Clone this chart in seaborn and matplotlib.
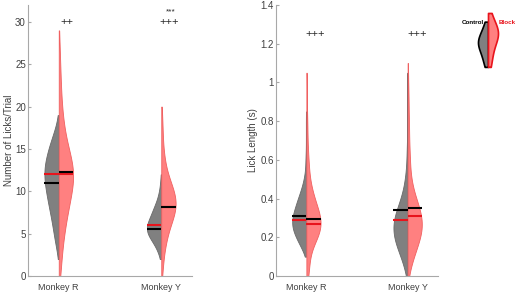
import numpy as np
import pandas as pd
import seaborn as sns
import matplotlib.pyplot as plt

monkeys = ["Monkey R", "Monkey Y"]
conditions = ["Control", "Block"]

# licks per trial: value bins and number of trials in each bin
lick_bins = np.arange(0, 30)
licks_r_control = [0, 0, 1, 4, 8, 11, 13, 17, 20, 24, 27, 30, 32, 31, 27,
                   22, 17, 10, 4, 1, 0, 0, 0, 0, 0, 0, 0, 0, 0, 0]
licks_r_block = [4, 4, 5, 6, 8, 10, 12, 15, 18, 21, 24, 28, 30, 28, 23,
                 18, 14, 11, 9, 7, 6, 5, 4, 4, 3, 3, 2, 2, 1, 1]
licks_y_control = [0, 0, 2, 7, 16, 28, 29, 21, 15, 8, 4, 2, 1, 0, 0,
                   0, 0, 0, 0, 0, 0, 0, 0, 0, 0, 0, 0, 0, 0, 0]
licks_y_block = [2, 3, 4, 6, 9, 12, 17, 24, 29, 29, 25, 18, 12, 8, 6,
                 4, 3, 3, 2, 2, 1, 0, 0, 0, 0, 0, 0, 0, 0, 0]

# lick length (s): value bins and number of licks in each bin
length_bins = np.round(np.arange(0, 1.15, 0.05), 2)
length_r_control = [0, 0, 1, 11, 21, 29, 29, 23, 17, 10, 5, 2, 2, 1, 1, 1,
                    1, 1, 0, 0, 0, 0, 0]
length_r_block = [5, 5, 6, 10, 22, 29, 28, 21, 15, 10, 6, 5, 4, 3, 2, 2,
                  2, 1, 1, 1, 1, 1, 0]
length_y_control = [2, 7, 13, 21, 27, 29, 27, 20, 13, 8, 5, 3, 2, 2, 1, 1,
                    1, 1, 1, 1, 1, 1, 0]
length_y_block = [2, 6, 13, 19, 27, 31, 30, 25, 17, 11, 7, 5, 5, 4, 3, 3,
                  3, 2, 2, 2, 1, 1, 1]

# horizontal markers (black / red) per monkey
licks_black_control = [11.0, 5.6]
licks_red_control = [12.0, 6.0]
licks_black_block = [12.3, 8.2]
licks_red_block = [12.1, 8.1]
length_black_control = [0.31, 0.34]
length_red_control = [0.29, 0.29]
length_black_block = [0.295, 0.35]
length_red_block = [0.27, 0.31]

licks_marks = ["++", "+++"]
licks_stars = ["", "***"]
length_marks = ["+++", "+++"]

# legend violin samples
legend_control = [0.05, 0.15, 0.25, 0.32, 0.38, 0.42, 0.45, 0.48, 0.52, 0.58, 0.66, 0.78]
legend_block = [0.05, 0.2, 0.32, 0.42, 0.5, 0.55, 0.58, 0.62, 0.65, 0.7, 0.78, 0.92]

GRAY = "#808080"
SALMON = "#ff8080"
TXT = "#404040"


def build(bins, counts):
    frames = []
    for (m, c), cnt in counts.items():
        vals = np.repeat(bins, cnt)
        frames.append(pd.DataFrame({"monkey": m, "cond": c, "value": vals}))
    return pd.concat(frames, ignore_index=True)


licks_df = build(lick_bins, {
    ("Monkey R", "Control"): licks_r_control,
    ("Monkey R", "Block"): licks_r_block,
    ("Monkey Y", "Control"): licks_y_control,
    ("Monkey Y", "Block"): licks_y_block,
})
length_df = build(length_bins, {
    ("Monkey R", "Control"): length_r_control,
    ("Monkey R", "Block"): length_r_block,
    ("Monkey Y", "Control"): length_y_control,
    ("Monkey Y", "Block"): length_y_block,
})

sns.set_style("ticks")
plt.rcParams["font.family"] = ["Liberation Sans", "DejaVu Sans"]

fig = plt.figure(figsize=(5.19, 2.96), dpi=100)
ax1 = fig.add_axes([28 / 519, 20 / 296, 164 / 519, 271 / 296])
ax2 = fig.add_axes([276 / 519, 20 / 296, 162 / 519, 271 / 296])


def draw(ax, df, bw, black_c, red_c, black_b, red_b):
    sns.violinplot(data=df, x="monkey", y="value", hue="cond", order=monkeys,
                   hue_order=conditions, split=True, inner=None, cut=0,
                   density_norm="width", bw_adjust=bw, width=0.28,
                   palette={"Control": GRAY, "Block": SALMON}, saturation=1,
                   linewidth=0.6, legend=False, ax=ax)
    for coll in ax.collections:
        fc = coll.get_facecolor()[0]
        coll.set_edgecolor("#6a6a6a" if fc[0] < 0.6 else "#f06060")
    half = 0.14
    for i in range(len(monkeys)):
        ax.hlines(red_c[i], i - half, i, color="#e8141c", lw=1.5, zorder=3)
        ax.hlines(black_c[i], i - half, i, color="black", lw=1.5, zorder=3)
        ax.hlines(red_b[i], i, i + half, color="#e8141c", lw=1.5, zorder=3)
        ax.hlines(black_b[i], i, i + half, color="black", lw=1.5, zorder=3)
    ax.set_xlim(-0.3, 1.3)
    ax.set_xlabel("")
    sns.despine(ax=ax)
    for s in ["left", "bottom"]:
        ax.spines[s].set_color("#a8a8a8")
        ax.spines[s].set_linewidth(0.8)
    ax.tick_params(axis="y", direction="in", length=2.5, color="#a8a8a8",
                   labelsize=7, labelcolor=TXT, pad=1.5)
    ax.tick_params(axis="x", length=0, labelsize=6.5, labelcolor=TXT, pad=5)


draw(ax1, licks_df, 1.0, licks_black_control, licks_red_control,
     licks_black_block, licks_red_block)
ax1.set_ylim(0, 32)
ax1.set_yticks([0, 5, 10, 15, 20, 25, 30])
ax1.set_ylabel("Number of Licks/Trial", fontsize=7, color=TXT, labelpad=1)
for i in range(len(monkeys)):
    ax1.text(i + 0.075, 30, licks_marks[i], ha="center", va="center", fontsize=8)
    ax1.text(i + 0.09, 31.2, licks_stars[i], ha="center", va="center", fontsize=6)

draw(ax2, length_df, 0.8, length_black_control, length_red_control,
     length_black_block, length_red_block)
ax2.set_ylim(0, 1.4)
ticks = [0, 0.2, 0.4, 0.6, 0.8, 1, 1.2, 1.4]
ax2.set_yticks(ticks)
ax2.set_yticklabels([f"{t:g}" for t in ticks])
ax2.set_ylabel("Lick Length (s)", fontsize=7, color=TXT, labelpad=2)
for i in range(len(monkeys)):
    ax2.text(i + 0.09, 1.25, length_marks[i], ha="center", va="center", fontsize=8)

# legend: small split violin
lg = fig.add_axes([470 / 519, (296 - 70) / 296, 40 / 519, 62 / 296])
leg_df = pd.DataFrame({
    "k": "a",
    "cond": ["Control"] * len(legend_control) + ["Block"] * len(legend_block),
    "value": legend_control + legend_block,
})
sns.violinplot(data=leg_df, x="k", y="value", hue="cond", hue_order=conditions,
               split=True, inner=None, cut=0, density_norm="width", width=0.5,
               palette={"Control": GRAY, "Block": SALMON}, saturation=1,
               linewidth=1.2, legend=False, ax=lg)
lg.collections[0].set_edgecolor("black")
lg.collections[1].set_edgecolor("#e8141c")
lg.set_xlim(-0.45, 0.55)
lg.set_ylim(0, 1)
lg.axis("off")
lg.text(-0.1, 0.76, "Control", ha="right", va="center", fontsize=4.5,
        fontweight="bold", color="black")
lg.text(0.27, 0.76, "Block", ha="left", va="center", fontsize=4.5,
        fontweight="bold", color="#e8141c")

fig.savefig("out.png", dpi=100)
